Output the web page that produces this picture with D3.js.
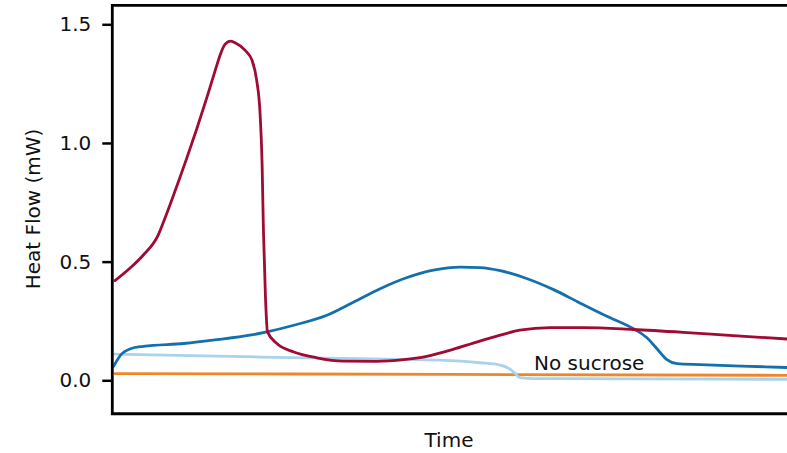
<!DOCTYPE html>
<html>
<head>
<meta charset="utf-8">
<script src="https://cdn.jsdelivr.net/npm/d3@7/dist/d3.min.js"></script>
<style>
  html, body { margin: 0; padding: 0; background: #fff; }
  svg { display: block; }
  text { font-family: "DejaVu Sans", sans-serif; fill: #111; }
</style>
</head>
<body>
<svg id="chart" width="787" height="453"></svg>
<script>
// ---- data ----
const yTicks = [0.0, 0.5, 1.0, 1.5];
const yTickLabels = ["0.0", "0.5", "1.0", "1.5"];
const yLabel = "Heat Flow (mW)";
const xLabel = "Time";
const annotation = "No sucrose";

// red series (time, heat flow)
const redT = [0.4, 2.6, 4.6, 6.8, 7.6, 8.6, 9.8, 11.0, 12.5, 14.0, 15.3, 16.0, 16.7, 17.5, 18.2, 19.7, 20.7, 21.4, 21.9, 22.2, 22.4, 22.7, 23.0, 24.4, 26.9, 30.3, 34.3, 39.2, 43.2, 46.6, 50.6, 54.0, 57.5, 60.4, 64.9, 69.8, 77.2, 84.6, 92.0, 100];
const redV = [0.420, 0.472, 0.528, 0.612, 0.668, 0.743, 0.837, 0.933, 1.058, 1.190, 1.310, 1.372, 1.415, 1.429, 1.422, 1.39, 1.349, 1.264, 1.125, 0.914, 0.632, 0.351, 0.204, 0.155, 0.119, 0.095, 0.081, 0.080, 0.087, 0.101, 0.131, 0.161, 0.190, 0.211, 0.222, 0.222, 0.214, 0.202, 0.188, 0.174];

// blue series
const blueT = [0.2, 1.2, 2.7, 4.6, 10.6, 15.5, 20.4, 22.9, 26.9, 31.8, 35.8, 39.7, 43.7, 47.6, 51.6, 54.5, 57.5, 61.4, 65.4, 69.3, 73.3, 77.2, 79.2, 80.7, 82.2, 83.7, 87.1, 94.5, 100];
const blueV = [0.059, 0.105, 0.133, 0.143, 0.155, 0.171, 0.190, 0.204, 0.232, 0.274, 0.330, 0.386, 0.433, 0.464, 0.477, 0.475, 0.462, 0.429, 0.382, 0.326, 0.270, 0.218, 0.180, 0.134, 0.087, 0.070, 0.066, 0.059, 0.054];

// light blue series (no sucrose)
const lightT = [0.2, 21.9, 36.7, 48.4, 54.5, 57.5, 59.0, 59.7, 60.4, 62.4, 66.4, 100];
const lightV = [0.110, 0.098, 0.091, 0.085, 0.074, 0.064, 0.046, 0.029, 0.011, 0.007, 0.007, 0.004];

// orange series
const orangeT = [0.4, 50, 100];
const orangeV = [0.028, 0.025, 0.021];

// ---- chart ----
const svg = d3.select("#chart");
const x = d3.scaleLinear().domain([0, 100]).range([112.3, 787]);
const y = d3.scaleLinear().domain([0, 1.5]).range([380.3, 24.3]);
const yTop = 1.58, yBottom = -0.141;

svg.append("defs").append("clipPath").attr("id", "plotclip")
  .append("rect")
  .attr("x", x(0) + 1).attr("y", y(yTop) + 1)
  .attr("width", x(100) - x(0) + 10).attr("height", y(yBottom) - y(yTop) - 2);

const line = d3.line()
  .x(d => x(d[0])).y(d => y(d[1]))
  .curve(d3.curveMonotoneX);

const series = [
  { t: orangeT, v: orangeV, color: "#f0862a" },
  { t: lightT, v: lightV, color: "#a9d2ec" },
  { t: blueT, v: blueV, color: "#1470ab" },
  { t: redT, v: redV, color: "#a00a33" }
];

const g = svg.append("g").attr("clip-path", "url(#plotclip)");
series.forEach(s => {
  g.append("path")
    .datum(s.t.map((t, i) => [t, s.v[i]]))
    .attr("fill", "none")
    .attr("stroke", s.color)
    .attr("stroke-width", 2.8)
    .attr("stroke-linejoin", "round")
    .attr("stroke-linecap", "round")
    .attr("d", line);
});

// frame (top, left, bottom)
svg.append("path")
  .attr("d", `M${x(100) + 5},${y(yTop)} H${x(0)} V${y(yBottom)} H${x(100) + 5}`)
  .attr("fill", "none")
  .attr("stroke", "#000")
  .attr("stroke-width", 2.8);

// y axis
const yAxis = d3.axisLeft(y)
  .tickValues(yTicks)
  .tickFormat((d, i) => yTickLabels[i])
  .tickSize(10)
  .tickPadding(11);
const ya = svg.append("g").attr("transform", `translate(${x(0)},0)`).call(yAxis);
ya.select(".domain").remove();
ya.selectAll(".tick line").attr("stroke", "#000").attr("stroke-width", 2.5);
ya.selectAll(".tick text")
  .attr("font-family", "'DejaVu Sans', sans-serif")
  .attr("font-size", 20)
  .attr("fill", "#111");

// axis labels
svg.append("text")
  .attr("transform", `translate(40,209) rotate(-90)`)
  .attr("text-anchor", "middle")
  .attr("font-size", 20)
  .text(yLabel);

svg.append("text")
  .attr("x", 449).attr("y", 447)
  .attr("text-anchor", "middle")
  .attr("font-size", 20)
  .text(xLabel);

// annotation
svg.append("text")
  .attr("x", x(62.5)).attr("y", y(0.0425))
  .attr("font-size", 20)
  .text(annotation);
</script>
</body>
</html>
